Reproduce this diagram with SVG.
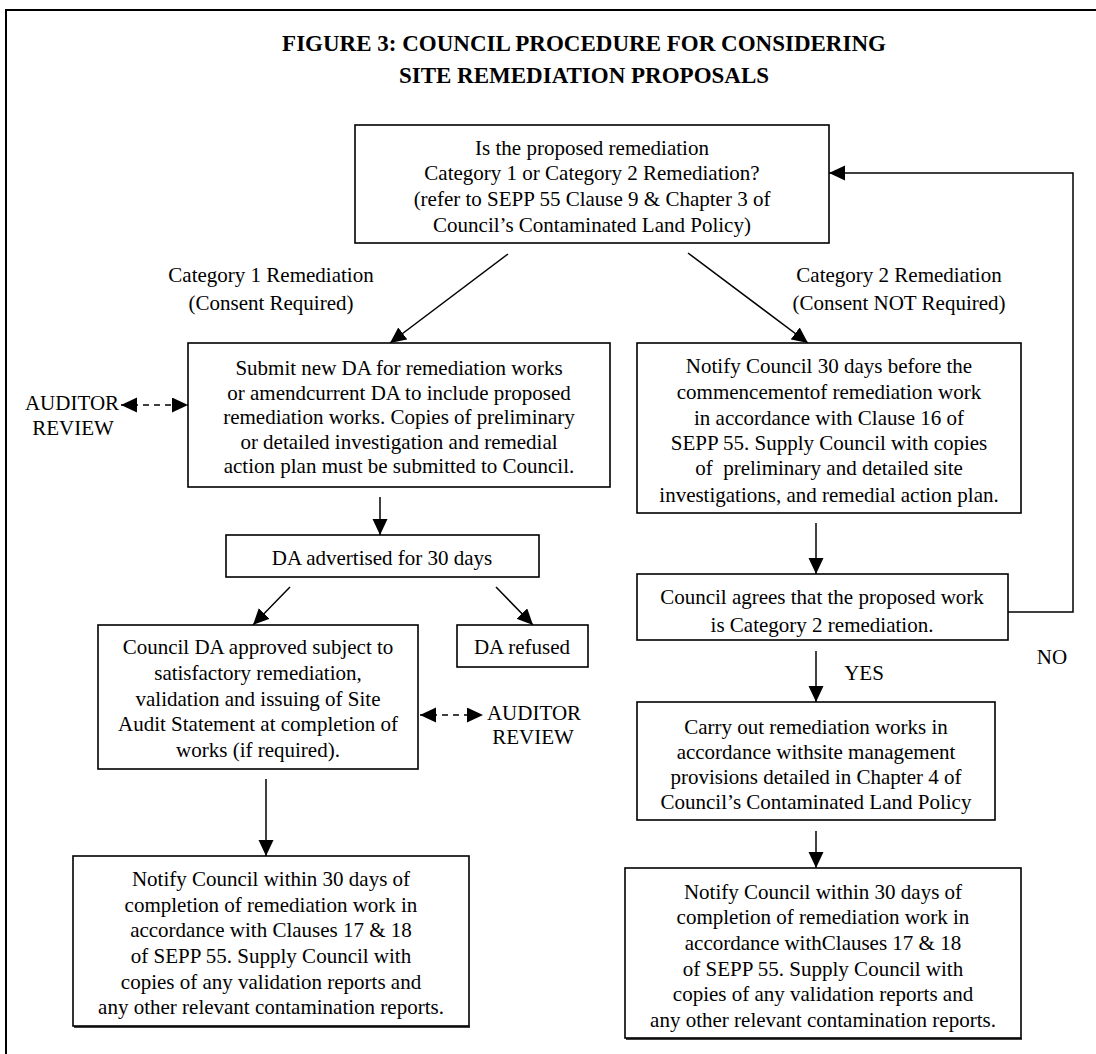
<svg xmlns="http://www.w3.org/2000/svg" width="1096" height="1054" viewBox="0 0 1096 1054">
<defs>
<marker id="ah" markerUnits="userSpaceOnUse" markerWidth="18" markerHeight="16" refX="16" refY="7.5" orient="auto-start-reverse">
<path d="M0,0 L16,7.5 L0,15 z" fill="#000"/>
</marker>
</defs>
<style>
.box{fill:#fff;stroke:#000;stroke-width:1.6}
.t{font-family:"Liberation Serif","Times New Roman",serif;font-size:21px;fill:#000;text-anchor:middle}
.title{font-family:"Liberation Serif","Times New Roman",serif;font-size:23px;font-weight:bold;fill:#000;text-anchor:middle}
.ln{fill:none;stroke:#000;stroke-width:1.5}
.dash{fill:none;stroke:#000;stroke-width:1.5;stroke-dasharray:6,5}
</style>
<rect x="6" y="10" width="1110" height="1070" fill="#fff" stroke="#000" stroke-width="2"/>
<g id="title">
<text class="title" x="584" y="51">FIGURE 3: COUNCIL PROCEDURE FOR CONSIDERING</text>
<text class="title" x="584" y="83">SITE REMEDIATION PROPOSALS</text>
</g>
<g id="connectors">
<line class="ln" x1="508" y1="254" x2="390" y2="343" marker-end="url(#ah)"/>
<line class="ln" x1="688" y1="253" x2="808" y2="343" marker-end="url(#ah)"/>
<line class="dash" x1="121" y1="405" x2="188" y2="405" marker-start="url(#ah)" marker-end="url(#ah)"/>
<line class="ln" x1="380" y1="497" x2="380" y2="535" marker-end="url(#ah)"/>
<line class="ln" x1="290" y1="587" x2="253" y2="625" marker-end="url(#ah)"/>
<line class="ln" x1="496" y1="587" x2="533" y2="625" marker-end="url(#ah)"/>
<line class="dash" x1="420" y1="715" x2="483" y2="715" marker-start="url(#ah)" marker-end="url(#ah)"/>
<line class="ln" x1="266" y1="779" x2="266" y2="856" marker-end="url(#ah)"/>
<line class="ln" x1="816" y1="523" x2="816" y2="574" marker-end="url(#ah)"/>
<polyline class="ln" points="1008,612 1073,612 1073,173 829,173" marker-end="url(#ah)"/>
<line class="ln" x1="816" y1="651" x2="816" y2="702" marker-end="url(#ah)"/>
<line class="ln" x1="816" y1="831" x2="816" y2="868" marker-end="url(#ah)"/>
</g>
<g id="labels">
<text class="t" x="271" y="282">Category 1 Remediation</text>
<text class="t" x="271" y="310">(Consent Required)</text>
<text class="t" x="899" y="282">Category 2 Remediation</text>
<text class="t" x="899" y="310">(Consent NOT Required)</text>
<text class="t" x="1052" y="664">NO</text>
<text class="t" x="864" y="680">YES</text>
</g>
<g id="auditor1">
<text class="t" x="72" y="410">AUDITOR</text>
<text class="t" x="73" y="435">REVIEW</text>
</g>
<g id="auditor2">
<text class="t" x="534" y="720">AUDITOR</text>
<text class="t" x="533" y="744">REVIEW</text>
</g>
<g id="n-question">
<rect class="box" x="355" y="125" width="474" height="118"/>
<text class="t" x="592" y="155">Is the proposed remediation</text>
<text class="t" x="592" y="180">Category 1 or Category 2 Remediation?</text>
<text class="t" x="592" y="206">(refer to SEPP 55 Clause 9 &amp; Chapter 3 of</text>
<text class="t" x="592" y="232">Council’s Contaminated Land Policy)</text>
</g>
<g id="n-submit">
<rect class="box" x="188" y="343" width="422" height="144"/>
<text class="t" x="399" y="375">Submit new DA for remediation works</text>
<text class="t" x="399" y="400">or amendcurrent DA to include proposed</text>
<text class="t" x="399" y="424">remediation works. Copies of preliminary</text>
<text class="t" x="399" y="449">or detailed investigation and remedial</text>
<text class="t" x="399" y="473">action plan must be submitted to Council.</text>
</g>
<g id="n-advertised">
<rect class="box" x="226" y="535" width="313" height="42"/>
<text class="t" x="382" y="565">DA advertised for 30 days</text>
</g>
<g id="n-approved">
<rect class="box" x="98" y="625" width="320" height="144"/>
<text class="t" x="258" y="654">Council DA approved subject to</text>
<text class="t" x="258" y="680">satisfactory remediation,</text>
<text class="t" x="258" y="706">validation and issuing of Site</text>
<text class="t" x="258" y="731">Audit Statement at completion of</text>
<text class="t" x="258" y="757">works (if required).</text>
</g>
<g id="n-refused">
<rect class="box" x="457" y="625" width="131" height="42"/>
<text class="t" x="522" y="654">DA refused</text>
</g>
<g id="n-notify-left">
<rect class="box" x="73" y="856" width="396" height="170"/>
<line x1="74" y1="1027" x2="470" y2="1027" stroke="#000" stroke-width="1.5"/>
<text class="t" x="271" y="886">Notify Council within 30 days of</text>
<text class="t" x="271" y="912">completion of remediation work in</text>
<text class="t" x="271" y="937">accordance with Clauses 17 &amp; 18</text>
<text class="t" x="271" y="963">of SEPP 55. Supply Council with</text>
<text class="t" x="271" y="989">copies of any validation reports and</text>
<text class="t" x="271" y="1014">any other relevant contamination reports.</text>
</g>
<g id="n-notify30">
<rect class="box" x="637" y="343" width="384" height="170"/>
<text class="t" x="829" y="373">Notify Council 30 days before the</text>
<text class="t" x="829" y="399">commencementof remediation work</text>
<text class="t" x="829" y="425">in accordance with Clause 16 of</text>
<text class="t" x="829" y="450">SEPP 55. Supply Council with copies</text>
<text class="t" x="829" y="475" xml:space="preserve">of  preliminary and detailed site</text>
<text class="t" x="829" y="502">investigations, and remedial action plan.</text>
</g>
<g id="n-agrees">
<rect class="box" x="637" y="574" width="371" height="66"/>
<text class="t" x="822" y="604">Council agrees that the proposed work</text>
<text class="t" x="822" y="632">is Category 2 remediation.</text>
</g>
<g id="n-carry">
<rect class="box" x="637" y="702" width="358" height="118"/>
<text class="t" x="816" y="734">Carry out remediation works in</text>
<text class="t" x="816" y="759">accordance withsite management</text>
<text class="t" x="816" y="784">provisions detailed in Chapter 4 of</text>
<text class="t" x="816" y="809">Council’s Contaminated Land Policy</text>
</g>
<g id="n-notify-right">
<rect class="box" x="625" y="868" width="396" height="170"/>
<line x1="626" y1="1039" x2="1022" y2="1039" stroke="#000" stroke-width="1.5"/>
<text class="t" x="823" y="899">Notify Council within 30 days of</text>
<text class="t" x="823" y="924">completion of remediation work in</text>
<text class="t" x="823" y="950">accordance withClauses 17 &amp; 18</text>
<text class="t" x="823" y="976">of SEPP 55. Supply Council with</text>
<text class="t" x="823" y="1001">copies of any validation reports and</text>
<text class="t" x="823" y="1027">any other relevant contamination reports.</text>
</g>
</svg>
